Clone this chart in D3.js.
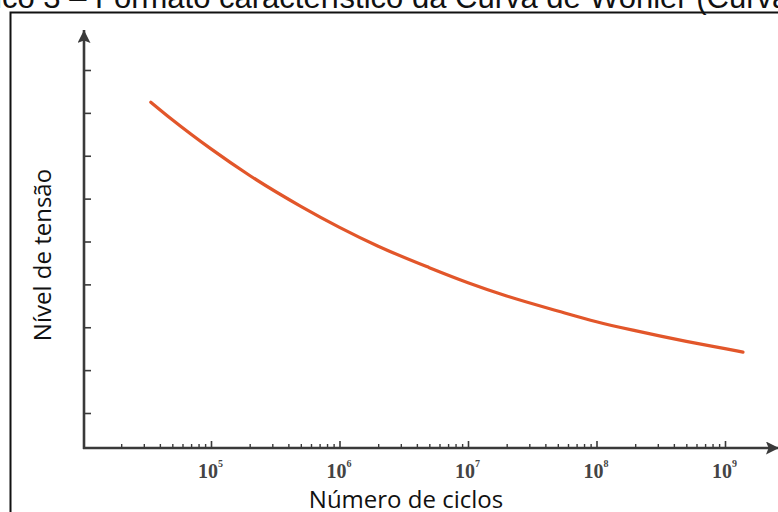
<!DOCTYPE html>
<html>
<head>
<meta charset="utf-8">
<script src="https://cdn.jsdelivr.net/npm/d3@7"></script>
<style>
  html, body { margin: 0; padding: 0; background: #fff; overflow: hidden; }
  svg { display: block; }
</style>
</head>
<body>
<svg id="chart" width="778" height="512"></svg>
<script>
// S-N (Wöhler) curve: number of cycles vs. stress level
const cycles = [3.4e4, 5e4, 1e5, 2e5, 5e5, 1e6, 2e6, 5e6, 1e7, 2e7, 5e7, 1e8, 2e8, 5e8, 1e9, 1.38e9];
const stress = [8.25, 7.84, 7.16, 6.54, 5.82, 5.33, 4.89, 4.39, 4.04, 3.73, 3.38, 3.13, 2.92, 2.67, 2.50, 2.42];
const decadeExponents = [5, 6, 7, 8, 9];
const stressTicks = [1, 2, 3, 4, 5, 6, 7, 8, 9];

const titleText = "Gráfico 3 – Formato característico da Curva de Wöhler (Curva S-N)";
const titleLead = "Gráfico 3 – ";
const xTitle = "Número de ciclos";
const yTitle = "Nível de tensão";

const svg = d3.select("#chart");
const axisColor = "#3a3a3a";
const curveColor = "#e2562a";

// plot frame
const originX = 84, originY = 448;
const xEnd = 779, yEnd = 30;

const x = d3.scaleLog().domain([1e4, 1e9]).range([82.5, 725]);
const y = d3.scaleLinear().domain([1, 9]).range([413, 70]);

// caption (runs past the top and right edges)
const titleFont = "Arial, 'Liberation Sans', sans-serif";
const title = svg.append("text")
  .attr("y", 8)
  .attr("font-family", titleFont)
  .attr("font-size", 31)
  .attr("fill", "#111")
  .text(titleText);
const probe = svg.append("text")
  .attr("font-family", titleFont)
  .attr("font-size", 31)
  .text(titleLead.replace(/ $/, "\u00a0"));
const leadW = probe.node().getComputedTextLength();
probe.remove();
title.attr("x", 95 - leadW);

// outer frame
svg.append("rect")
  .attr("x", 10.5).attr("y", 12.5)
  .attr("width", 900).attr("height", 700)
  .attr("fill", "none")
  .attr("stroke", "#111")
  .attr("stroke-width", 2);

// arrow marker
const defs = svg.append("defs");
defs.append("marker")
  .attr("id", "arrow")
  .attr("viewBox", "0 0 10 10")
  .attr("refX", 10).attr("refY", 5)
  .attr("markerUnits", "userSpaceOnUse")
  .attr("markerWidth", 14).attr("markerHeight", 13)
  .attr("orient", "auto")
  .append("path")
  .attr("d", "M0,0 L10,5 L0,10 L2,5 Z")
  .attr("fill", axisColor);

const g = svg.append("g");

// axes lines
g.append("line")
  .attr("x1", originX).attr("y1", originY + 1)
  .attr("x2", originX).attr("y2", yEnd)
  .attr("stroke", axisColor).attr("stroke-width", 2.6)
  .attr("marker-end", "url(#arrow)");
g.append("line")
  .attr("x1", originX - 1).attr("y1", originY)
  .attr("x2", xEnd).attr("y2", originY)
  .attr("stroke", axisColor).attr("stroke-width", 2.6)
  .attr("marker-end", "url(#arrow)");

// y ticks (pointing right, no labels)
const yAxis = d3.axisRight(y).tickValues(stressTicks).tickSize(7).tickFormat("");
g.append("g")
  .attr("transform", `translate(${originX},0)`)
  .call(yAxis)
  .call(s => s.select(".domain").remove())
  .call(s => s.selectAll(".tick line").attr("stroke", axisColor).attr("stroke-width", 1.6));

// x minor + major ticks (pointing up)
const minorVals = [];
for (let e = 4; e <= 8; e++) for (let m = 2; m <= 9; m++) minorVals.push(m * Math.pow(10, e));
const majorVals = decadeExponents.map(e => Math.pow(10, e));

g.append("g")
  .attr("transform", `translate(0,${originY})`)
  .call(d3.axisTop(x).tickValues(minorVals).tickSize(4).tickFormat(""))
  .call(s => s.select(".domain").remove())
  .call(s => s.selectAll(".tick line").attr("stroke", axisColor).attr("stroke-width", 1.4));

g.append("g")
  .attr("transform", `translate(0,${originY})`)
  .call(d3.axisTop(x).tickValues(majorVals).tickSize(7).tickFormat(""))
  .call(s => s.select(".domain").remove())
  .call(s => s.selectAll(".tick line").attr("stroke", axisColor).attr("stroke-width", 1.6));

// decade labels 10^n
const lab = g.selectAll(".dec").data(decadeExponents).enter().append("text")
  .attr("class", "dec")
  .attr("x", d => x(Math.pow(10, d)) - 13)
  .attr("y", 478)
  .attr("font-family", "'Liberation Serif', 'Times New Roman', serif")
  .attr("font-weight", "bold")
  .attr("font-size", 20)
  .attr("fill", "#444");
lab.append("tspan").text("10");
lab.append("tspan").attr("dy", -11).attr("font-size", 10).text(d => d);

// axis titles
svg.append("text")
  .attr("x", 406).attr("y", 508)
  .attr("text-anchor", "middle")
  .attr("font-family", "'Open Sans', sans-serif")
  .attr("font-size", 24)
  .attr("fill", "#111")
  .text(xTitle);
svg.append("text")
  .attr("transform", "translate(51,255) rotate(-90)")
  .attr("text-anchor", "middle")
  .attr("font-family", "'Open Sans', sans-serif")
  .attr("font-size", 24)
  .attr("fill", "#111")
  .text(yTitle);

// S-N curve
const line = d3.line()
  .x((d, i) => x(cycles[i]))
  .y((d, i) => y(stress[i]))
  .curve(d3.curveMonotoneX);
g.append("path")
  .datum(stress)
  .attr("d", line)
  .attr("fill", "none")
  .attr("stroke", curveColor)
  .attr("stroke-width", 3.2)
  .attr("stroke-linecap", "round");
</script>
</body>
</html>
